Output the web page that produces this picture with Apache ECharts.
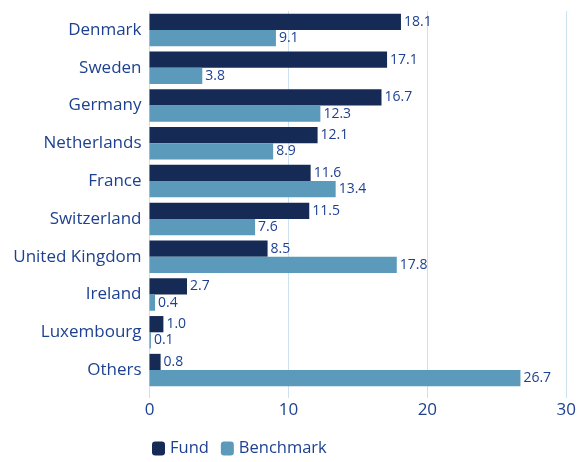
<!DOCTYPE html>
<html><head><meta charset="utf-8">
<script src="https://cdn.jsdelivr.net/npm/echarts@6/dist/echarts.min.js"></script>
<style>html,body{margin:0;padding:0;background:#fff}#c{width:579px;height:462px}</style>
</head><body><div id="c"></div>
<script>
const categories = ["Denmark","Sweden","Germany","Netherlands","France","Switzerland","United Kingdom","Ireland","Luxembourg","Others"];
const fund = [18.1,17.1,16.7,12.1,11.6,11.5,8.5,2.7,1.0,0.8];
const benchmark = [9.1,3.8,12.3,8.9,13.4,7.6,17.8,0.4,0.1,26.7];
const xTicks = {min:0,max:30,interval:10};
const txt = '#1d4190';
const font = '"Open Sans", sans-serif';
const chart = echarts.init(document.getElementById('c'));
chart.setOption({
  animation:false,
  textStyle:{fontFamily:font},
  grid:{left:149.5,right:11.5,top:11,bottom:73},
  legend:{bottom:0,left:147,itemWidth:13,itemHeight:14,itemGap:12,
    textStyle:{color:txt,fontSize:16.5,fontFamily:font},
    data:['Fund','Benchmark']},
  xAxis:{type:'value',min:xTicks.min,max:xTicks.max,interval:xTicks.interval,
    axisLine:{show:false},
    axisTick:{show:true,length:9,lineStyle:{color:'#cde2ee'}},
    splitLine:{lineStyle:{color:'#cde2ee',width:1}},
    axisLabel:{color:txt,fontSize:17,margin:13,fontFamily:font}},
  yAxis:{type:'category',data:categories,inverse:true,
    axisLine:{show:false},axisTick:{show:false},
    axisLabel:{color:txt,fontSize:17,margin:8,fontFamily:font}},
  series:[
    {name:'Fund',type:'bar',data:fund,barGap:'0%',barCategoryGap:'14%',
     itemStyle:{color:'#152b56'},
     label:{show:true,position:'right',distance:3,color:txt,fontSize:14,fontFamily:font,formatter:p=>p.value.toFixed(1)}},
    {name:'Benchmark',type:'bar',data:benchmark,barGap:'0%',barCategoryGap:'14%',
     itemStyle:{color:'#5b9aba'},
     label:{show:true,position:'right',distance:3,color:txt,fontSize:14,fontFamily:font,formatter:p=>p.value.toFixed(1)}}
  ]
});
</script></body></html>
